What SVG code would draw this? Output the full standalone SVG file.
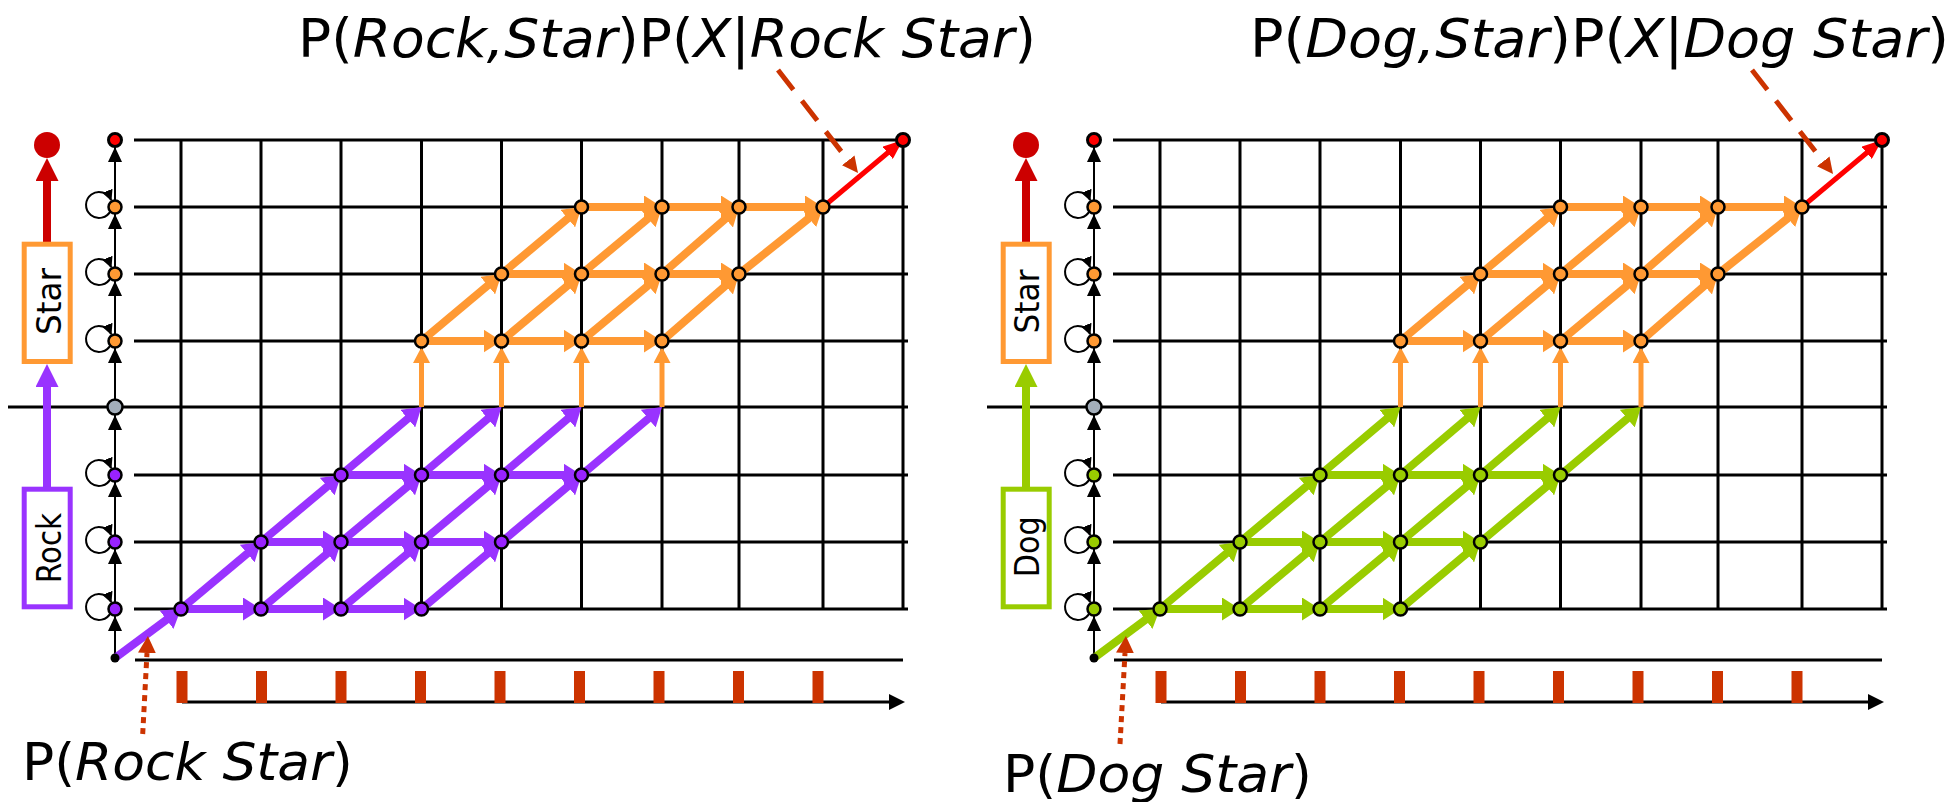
<svg xmlns="http://www.w3.org/2000/svg" xmlns:xlink="http://www.w3.org/1999/xlink" width="1954" height="802" viewBox="0 0 1954 802">
<style>
.grid{stroke:#000;stroke-width:3;fill:none}
.ax{stroke:#000;stroke-width:2;fill:none;marker-end:url(#mK)}
.loop{stroke:#000;stroke-width:2;fill:none;marker-end:url(#mL)}
.pe{stroke:#9933FF;stroke-width:8;fill:none;marker-end:url(#mP)}
.pe2{stroke:#9933FF;stroke-width:8;fill:none;marker-end:url(#mP2)}
.ge{stroke:#99CC00;stroke-width:8;fill:none;marker-end:url(#mG)}
.ge2{stroke:#99CC00;stroke-width:8;fill:none;marker-end:url(#mG2)}
.oe{stroke:#FF9933;stroke-width:8;fill:none;marker-end:url(#mO)}
.ov{stroke:#FF9933;stroke-width:5;fill:none;marker-end:url(#mOv)}
.re{stroke:#FF0000;stroke-width:5;fill:none;marker-end:url(#mR)}
.np{fill:#9922FF;stroke:#000;stroke-width:2.5}
.no{fill:#FF9933;stroke:#000;stroke-width:2.5}
.ng{fill:#99CC00;stroke:#000;stroke-width:2.5}
.nr{fill:#FF0000;stroke:#000;stroke-width:3}
.ngr{fill:#A3AEBA;stroke:#000;stroke-width:2.5}
.nk{fill:#000}
.lbl{font-family:"DejaVu Sans",Verdana,sans-serif;font-size:53px;fill:#000}
.blbl{font-family:"DejaVu Sans",Verdana,sans-serif;font-size:52px;fill:#000}
.btxt{font-family:"DejaVu Sans",Verdana,sans-serif;font-size:33px;fill:#000;text-anchor:middle}
.dash{stroke:#CC3300;stroke-width:5;fill:none;stroke-dasharray:25 14;marker-end:url(#mD)}
.dot{stroke:#CC3300;stroke-width:5;fill:none;stroke-dasharray:6 5;marker-end:url(#mDot)}
.tick{fill:#CC3300}
.tax{stroke:#000;stroke-width:3;fill:none;marker-end:url(#mAx)}
</style>
<defs>
<marker id="mP" markerUnits="userSpaceOnUse" markerWidth="18" markerHeight="23" refX="18" refY="11.5" orient="auto"><path d="M0,0L18,11.5L0,23z" fill="#9933FF"/></marker>
<marker id="mP2" markerUnits="userSpaceOnUse" markerWidth="18" markerHeight="23" refX="10" refY="11.5" orient="auto"><path d="M0,0L18,11.5L0,23z" fill="#9933FF"/></marker>
<marker id="mG" markerUnits="userSpaceOnUse" markerWidth="18" markerHeight="23" refX="18" refY="11.5" orient="auto"><path d="M0,0L18,11.5L0,23z" fill="#99CC00"/></marker>
<marker id="mG2" markerUnits="userSpaceOnUse" markerWidth="18" markerHeight="23" refX="10" refY="11.5" orient="auto"><path d="M0,0L18,11.5L0,23z" fill="#99CC00"/></marker>
<marker id="mO" markerUnits="userSpaceOnUse" markerWidth="18" markerHeight="23" refX="18" refY="11.5" orient="auto"><path d="M0,0L18,11.5L0,23z" fill="#FF9933"/></marker>
<marker id="mOv" markerUnits="userSpaceOnUse" markerWidth="16" markerHeight="17" refX="11" refY="8.5" orient="auto"><path d="M0,0L16,8.5L0,17z" fill="#FF9933"/></marker>
<marker id="mR" markerUnits="userSpaceOnUse" markerWidth="20" markerHeight="16" refX="20" refY="8" orient="auto"><path d="M0,0L20,8L0,16z" fill="#FF0000"/></marker>
<marker id="mK" markerUnits="userSpaceOnUse" markerWidth="15" markerHeight="14" refX="15" refY="7" orient="auto"><path d="M0,0L15,7L0,14z" fill="#000"/></marker>
<marker id="mL" markerUnits="userSpaceOnUse" markerWidth="11" markerHeight="11" refX="10" refY="5.5" orient="auto"><path d="M0,0L11,5.5L0,11z" fill="#000"/></marker>
<marker id="mD" markerUnits="userSpaceOnUse" markerWidth="16" markerHeight="16" refX="0" refY="8" orient="auto"><path d="M0,0L16,8L0,16z" fill="#CC3300"/></marker>
<marker id="mDot" markerUnits="userSpaceOnUse" markerWidth="17" markerHeight="18" refX="0" refY="9" orient="auto"><path d="M0,0L17,9L0,18z" fill="#CC3300"/></marker>
<marker id="mAx" markerUnits="userSpaceOnUse" markerWidth="16" markerHeight="16" refX="0" refY="8" orient="auto"><path d="M0,0L16,8L0,16z" fill="#000"/></marker>
<marker id="mBR" markerUnits="userSpaceOnUse" markerWidth="23" markerHeight="23" refX="0" refY="11.5" orient="auto"><path d="M0,0L23,11.5L0,23z" fill="#CC0000"/></marker>
<marker id="mBP" markerUnits="userSpaceOnUse" markerWidth="23" markerHeight="23" refX="0" refY="11.5" orient="auto"><path d="M0,0L23,11.5L0,23z" fill="#9933FF"/></marker>
<marker id="mBG" markerUnits="userSpaceOnUse" markerWidth="23" markerHeight="23" refX="0" refY="11.5" orient="auto"><path d="M0,0L23,11.5L0,23z" fill="#99CC00"/></marker>
<path id="loop" d="M-4.2,3.5A13,13 0 1,1 -3.9,-6.9"/>
</defs>

<!-- ============ LEFT PANEL ============ -->
<g id="L-grid">
<path class="grid" d="M134,140H903M134,207H908M134,274H908M134,341H908M8,407H908M134,475H908M134,542H908M134,609H908M181,140V609M261,140V609M341,140V609M421.5,140V609M501.5,140V609M581.5,140V609M662,140V609M739,140V609M823,140V609M903,140V609M135,660H903"/>
<path class="tax" d="M182,702H889"/>
<g class="tick">
<rect x="176.5" y="671" width="11" height="32"/><rect x="256" y="671" width="11" height="32"/><rect x="335.5" y="671" width="11" height="32"/><rect x="415" y="671" width="11" height="32"/><rect x="494.5" y="671" width="11" height="32"/><rect x="574" y="671" width="11" height="32"/><rect x="653.5" y="671" width="11" height="32"/><rect x="733" y="671" width="11" height="32"/><rect x="812.5" y="671" width="11" height="32"/>
</g>
</g>

<g id="L-connectors">
<line class="ax" x1="115" y1="658" x2="115" y2="616"/>
<line class="ax" x1="115" y1="609" x2="115" y2="549"/>
<line class="ax" x1="115" y1="542" x2="115" y2="482"/>
<line class="ax" x1="115" y1="475" x2="115" y2="415"/>
<line class="ax" x1="115" y1="407" x2="115" y2="348"/>
<line class="ax" x1="115" y1="341" x2="115" y2="281"/>
<line class="ax" x1="115" y1="274" x2="115" y2="214"/>
<line class="ax" x1="115" y1="207" x2="115" y2="147"/>
<use href="#loop" class="loop" x="115" y="609"/>
<use href="#loop" class="loop" x="115" y="542"/>
<use href="#loop" class="loop" x="115" y="475"/>
<use href="#loop" class="loop" x="115" y="341"/>
<use href="#loop" class="loop" x="115" y="274"/>
<use href="#loop" class="loop" x="115" y="207"/>
<line x1="47" y1="487" x2="47" y2="387" stroke="#9933FF" stroke-width="8" marker-end="url(#mBP)"/>
<line x1="47" y1="242" x2="47" y2="181" stroke="#CC0000" stroke-width="8" marker-end="url(#mBR)"/>
<line class="pe" x1="115" y1="658" x2="181" y2="609"/>
<line class="pe" x1="181" y1="609" x2="261" y2="542"/>
<line class="pe" x1="261" y1="609" x2="341" y2="542"/>
<line class="pe" x1="341" y1="609" x2="421.5" y2="542"/>
<line class="pe" x1="421.5" y1="609" x2="501.5" y2="542"/>
<line class="pe" x1="181" y1="609" x2="261" y2="609"/>
<line class="pe" x1="261" y1="609" x2="341" y2="609"/>
<line class="pe" x1="341" y1="609" x2="421.5" y2="609"/>
<line class="pe" x1="261" y1="542" x2="341" y2="475"/>
<line class="pe" x1="341" y1="542" x2="421.5" y2="475"/>
<line class="pe" x1="421.5" y1="542" x2="501.5" y2="475"/>
<line class="pe" x1="501.5" y1="542" x2="581.5" y2="475"/>
<line class="pe" x1="261" y1="542" x2="341" y2="542"/>
<line class="pe" x1="341" y1="542" x2="421.5" y2="542"/>
<line class="pe" x1="421.5" y1="542" x2="501.5" y2="542"/>
<line class="pe2" x1="341" y1="475" x2="415.4" y2="412.2"/>
<line class="pe2" x1="421.5" y1="475" x2="495.4" y2="412.2"/>
<line class="pe2" x1="501.5" y1="475" x2="575.4" y2="412.2"/>
<line class="pe2" x1="581.5" y1="475" x2="655.9" y2="412.2"/>
<line class="pe" x1="341" y1="475" x2="421.5" y2="475"/>
<line class="pe" x1="421.5" y1="475" x2="501.5" y2="475"/>
<line class="pe" x1="501.5" y1="475" x2="581.5" y2="475"/>
<line class="ov" x1="421.5" y1="407" x2="421.5" y2="352"/>
<line class="ov" x1="501.5" y1="407" x2="501.5" y2="352"/>
<line class="ov" x1="581.5" y1="407" x2="581.5" y2="352"/>
<line class="ov" x1="662" y1="407" x2="662" y2="352"/>
<line class="oe" x1="421.5" y1="341" x2="501.5" y2="274"/>
<line class="oe" x1="501.5" y1="341" x2="581.5" y2="274"/>
<line class="oe" x1="581.5" y1="341" x2="662" y2="274"/>
<line class="oe" x1="662" y1="341" x2="739" y2="274"/>
<line class="oe" x1="421.5" y1="341" x2="501.5" y2="341"/>
<line class="oe" x1="501.5" y1="341" x2="581.5" y2="341"/>
<line class="oe" x1="581.5" y1="341" x2="662" y2="341"/>
<line class="oe" x1="501.5" y1="274" x2="581.5" y2="207"/>
<line class="oe" x1="581.5" y1="274" x2="662" y2="207"/>
<line class="oe" x1="662" y1="274" x2="739" y2="207"/>
<line class="oe" x1="739" y1="274" x2="823" y2="207"/>
<line class="oe" x1="501.5" y1="274" x2="581.5" y2="274"/>
<line class="oe" x1="581.5" y1="274" x2="662" y2="274"/>
<line class="oe" x1="662" y1="274" x2="739" y2="274"/>
<line class="oe" x1="581.5" y1="207" x2="662" y2="207"/>
<line class="oe" x1="662" y1="207" x2="739" y2="207"/>
<line class="oe" x1="739" y1="207" x2="823" y2="207"/>
<line class="re" x1="823" y1="207" x2="903" y2="140"/>
<line class="dash" x1="778" y1="70" x2="848.2" y2="160.4"/>
<line class="dot" x1="142.7" y1="734" x2="147" y2="653"/>
</g>

<g id="L-box-star"><rect x="24.2" y="244.2" width="46" height="117.3" fill="#fff" stroke="#FF9933" stroke-width="5"/><text class="btxt" transform="translate(60.5,301.5) rotate(-90)" textLength="67" lengthAdjust="spacingAndGlyphs">Star</text></g>
<g id="L-box-rock"><rect x="24.2" y="489.2" width="46" height="117.6" fill="#fff" stroke="#9933FF" stroke-width="5"/><text class="btxt" transform="translate(60.5,548) rotate(-90)" textLength="70" lengthAdjust="spacingAndGlyphs">Rock</text></g>
<g id="L-end"><circle cx="47" cy="145" r="13" fill="#CC0000"/></g>

<g id="L-s0"><circle class="nk" cx="115" cy="658" r="4.5"/></g>
<g id="L-s1"><circle class="np" cx="115" cy="609" r="6.5"/></g>
<g id="L-s2"><circle class="np" cx="115" cy="542" r="6.5"/></g>
<g id="L-s3"><circle class="np" cx="115" cy="475" r="6.5"/></g>
<g id="L-s4"><circle class="ngr" cx="115" cy="407" r="7.5"/></g>
<g id="L-s5"><circle class="no" cx="115" cy="341" r="6.5"/></g>
<g id="L-s6"><circle class="no" cx="115" cy="274" r="6.5"/></g>
<g id="L-s7"><circle class="no" cx="115" cy="207" r="6.5"/></g>
<g id="L-s8"><circle class="nr" cx="115" cy="140" r="6.5"/></g>

<g id="L-p0a"><circle class="np" cx="181" cy="609" r="6.5"/></g>
<g id="L-p0b"><circle class="np" cx="261" cy="609" r="6.5"/></g>
<g id="L-p0c"><circle class="np" cx="341" cy="609" r="6.5"/></g>
<g id="L-p0d"><circle class="np" cx="421.5" cy="609" r="6.5"/></g>
<g id="L-p1a"><circle class="np" cx="261" cy="542" r="6.5"/></g>
<g id="L-p1b"><circle class="np" cx="341" cy="542" r="6.5"/></g>
<g id="L-p1c"><circle class="np" cx="421.5" cy="542" r="6.5"/></g>
<g id="L-p1d"><circle class="np" cx="501.5" cy="542" r="6.5"/></g>
<g id="L-p2a"><circle class="np" cx="341" cy="475" r="6.5"/></g>
<g id="L-p2b"><circle class="np" cx="421.5" cy="475" r="6.5"/></g>
<g id="L-p2c"><circle class="np" cx="501.5" cy="475" r="6.5"/></g>
<g id="L-p2d"><circle class="np" cx="581.5" cy="475" r="6.5"/></g>
<g id="L-o0a"><circle class="no" cx="421.5" cy="341" r="6.5"/></g>
<g id="L-o0b"><circle class="no" cx="501.5" cy="341" r="6.5"/></g>
<g id="L-o0c"><circle class="no" cx="581.5" cy="341" r="6.5"/></g>
<g id="L-o0d"><circle class="no" cx="662" cy="341" r="6.5"/></g>
<g id="L-o1a"><circle class="no" cx="501.5" cy="274" r="6.5"/></g>
<g id="L-o1b"><circle class="no" cx="581.5" cy="274" r="6.5"/></g>
<g id="L-o1c"><circle class="no" cx="662" cy="274" r="6.5"/></g>
<g id="L-o1d"><circle class="no" cx="739" cy="274" r="6.5"/></g>
<g id="L-o2a"><circle class="no" cx="581.5" cy="207" r="6.5"/></g>
<g id="L-o2b"><circle class="no" cx="662" cy="207" r="6.5"/></g>
<g id="L-o2c"><circle class="no" cx="739" cy="207" r="6.5"/></g>
<g id="L-o2d"><circle class="no" cx="823" cy="207" r="6.5"/></g>
<g id="L-final"><circle class="nr" cx="903" cy="140" r="6.5"/></g>

<g id="L-label-top"><text class="lbl" x="298" y="57" textLength="738" lengthAdjust="spacingAndGlyphs">P(<tspan font-style="italic">Rock,Star</tspan>)P(<tspan font-style="italic">X</tspan>|<tspan font-style="italic">Rock Star</tspan>)</text></g>
<g id="L-label-bottom"><text class="blbl" x="22" y="780" textLength="331" lengthAdjust="spacingAndGlyphs">P(<tspan font-style="italic">Rock Star</tspan>)</text></g>

<!-- ============ RIGHT PANEL ============ -->
<g transform="translate(979,0)">
<g id="R-grid">
<path class="grid" d="M134,140H903M134,207H908M134,274H908M134,341H908M8,407H908M134,475H908M134,542H908M134,609H908M181,140V609M261,140V609M341,140V609M421.5,140V609M501.5,140V609M581.5,140V609M662,140V609M739,140V609M823,140V609M903,140V609M135,660H903"/>
<path class="tax" d="M182,702H889"/>
<g class="tick">
<rect x="176.5" y="671" width="11" height="32"/><rect x="256" y="671" width="11" height="32"/><rect x="335.5" y="671" width="11" height="32"/><rect x="415" y="671" width="11" height="32"/><rect x="494.5" y="671" width="11" height="32"/><rect x="574" y="671" width="11" height="32"/><rect x="653.5" y="671" width="11" height="32"/><rect x="733" y="671" width="11" height="32"/><rect x="812.5" y="671" width="11" height="32"/>
</g>
</g>

<g id="R-connectors">
<line class="ax" x1="115" y1="658" x2="115" y2="616"/>
<line class="ax" x1="115" y1="609" x2="115" y2="549"/>
<line class="ax" x1="115" y1="542" x2="115" y2="482"/>
<line class="ax" x1="115" y1="475" x2="115" y2="415"/>
<line class="ax" x1="115" y1="407" x2="115" y2="348"/>
<line class="ax" x1="115" y1="341" x2="115" y2="281"/>
<line class="ax" x1="115" y1="274" x2="115" y2="214"/>
<line class="ax" x1="115" y1="207" x2="115" y2="147"/>
<use href="#loop" class="loop" x="115" y="609"/>
<use href="#loop" class="loop" x="115" y="542"/>
<use href="#loop" class="loop" x="115" y="475"/>
<use href="#loop" class="loop" x="115" y="341"/>
<use href="#loop" class="loop" x="115" y="274"/>
<use href="#loop" class="loop" x="115" y="207"/>
<line x1="47" y1="487" x2="47" y2="387" stroke="#99CC00" stroke-width="8" marker-end="url(#mBG)"/>
<line x1="47" y1="242" x2="47" y2="181" stroke="#CC0000" stroke-width="8" marker-end="url(#mBR)"/>
<line class="ge" x1="115" y1="658" x2="181" y2="609"/>
<line class="ge" x1="181" y1="609" x2="261" y2="542"/>
<line class="ge" x1="261" y1="609" x2="341" y2="542"/>
<line class="ge" x1="341" y1="609" x2="421.5" y2="542"/>
<line class="ge" x1="421.5" y1="609" x2="501.5" y2="542"/>
<line class="ge" x1="181" y1="609" x2="261" y2="609"/>
<line class="ge" x1="261" y1="609" x2="341" y2="609"/>
<line class="ge" x1="341" y1="609" x2="421.5" y2="609"/>
<line class="ge" x1="261" y1="542" x2="341" y2="475"/>
<line class="ge" x1="341" y1="542" x2="421.5" y2="475"/>
<line class="ge" x1="421.5" y1="542" x2="501.5" y2="475"/>
<line class="ge" x1="501.5" y1="542" x2="581.5" y2="475"/>
<line class="ge" x1="261" y1="542" x2="341" y2="542"/>
<line class="ge" x1="341" y1="542" x2="421.5" y2="542"/>
<line class="ge" x1="421.5" y1="542" x2="501.5" y2="542"/>
<line class="ge2" x1="341" y1="475" x2="415.4" y2="412.2"/>
<line class="ge2" x1="421.5" y1="475" x2="495.4" y2="412.2"/>
<line class="ge2" x1="501.5" y1="475" x2="575.4" y2="412.2"/>
<line class="ge2" x1="581.5" y1="475" x2="655.9" y2="412.2"/>
<line class="ge" x1="341" y1="475" x2="421.5" y2="475"/>
<line class="ge" x1="421.5" y1="475" x2="501.5" y2="475"/>
<line class="ge" x1="501.5" y1="475" x2="581.5" y2="475"/>
<line class="ov" x1="421.5" y1="407" x2="421.5" y2="352"/>
<line class="ov" x1="501.5" y1="407" x2="501.5" y2="352"/>
<line class="ov" x1="581.5" y1="407" x2="581.5" y2="352"/>
<line class="ov" x1="662" y1="407" x2="662" y2="352"/>
<line class="oe" x1="421.5" y1="341" x2="501.5" y2="274"/>
<line class="oe" x1="501.5" y1="341" x2="581.5" y2="274"/>
<line class="oe" x1="581.5" y1="341" x2="662" y2="274"/>
<line class="oe" x1="662" y1="341" x2="739" y2="274"/>
<line class="oe" x1="421.5" y1="341" x2="501.5" y2="341"/>
<line class="oe" x1="501.5" y1="341" x2="581.5" y2="341"/>
<line class="oe" x1="581.5" y1="341" x2="662" y2="341"/>
<line class="oe" x1="501.5" y1="274" x2="581.5" y2="207"/>
<line class="oe" x1="581.5" y1="274" x2="662" y2="207"/>
<line class="oe" x1="662" y1="274" x2="739" y2="207"/>
<line class="oe" x1="739" y1="274" x2="823" y2="207"/>
<line class="oe" x1="501.5" y1="274" x2="581.5" y2="274"/>
<line class="oe" x1="581.5" y1="274" x2="662" y2="274"/>
<line class="oe" x1="662" y1="274" x2="739" y2="274"/>
<line class="oe" x1="581.5" y1="207" x2="662" y2="207"/>
<line class="oe" x1="662" y1="207" x2="739" y2="207"/>
<line class="oe" x1="739" y1="207" x2="823" y2="207"/>
<line class="re" x1="823" y1="207" x2="903" y2="140"/>
<line class="dash" x1="773" y1="70" x2="844.2" y2="161.4"/>
<line class="dot" x1="141" y1="744" x2="146" y2="653"/>
</g>

<g id="R-box-star"><rect x="24.2" y="244.2" width="46" height="117.3" fill="#fff" stroke="#FF9933" stroke-width="5"/><text class="btxt" transform="translate(59.5,301.5) rotate(-90)" textLength="64" lengthAdjust="spacingAndGlyphs">Star</text></g>
<g id="R-box-dog"><rect x="24.2" y="489.2" width="46" height="117.6" fill="#fff" stroke="#99CC00" stroke-width="5"/><text class="btxt" transform="translate(59.5,546.7) rotate(-90)" textLength="61" lengthAdjust="spacingAndGlyphs">Dog</text></g>
<g id="R-end"><circle cx="47" cy="145" r="13" fill="#CC0000"/></g>

<g id="R-s0"><circle class="nk" cx="115" cy="658" r="4.5"/></g>
<g id="R-s1"><circle class="ng" cx="115" cy="609" r="6.5"/></g>
<g id="R-s2"><circle class="ng" cx="115" cy="542" r="6.5"/></g>
<g id="R-s3"><circle class="ng" cx="115" cy="475" r="6.5"/></g>
<g id="R-s4"><circle class="ngr" cx="115" cy="407" r="7.5"/></g>
<g id="R-s5"><circle class="no" cx="115" cy="341" r="6.5"/></g>
<g id="R-s6"><circle class="no" cx="115" cy="274" r="6.5"/></g>
<g id="R-s7"><circle class="no" cx="115" cy="207" r="6.5"/></g>
<g id="R-s8"><circle class="nr" cx="115" cy="140" r="6.5"/></g>

<g id="R-g0a"><circle class="ng" cx="181" cy="609" r="6.5"/></g>
<g id="R-g0b"><circle class="ng" cx="261" cy="609" r="6.5"/></g>
<g id="R-g0c"><circle class="ng" cx="341" cy="609" r="6.5"/></g>
<g id="R-g0d"><circle class="ng" cx="421.5" cy="609" r="6.5"/></g>
<g id="R-g1a"><circle class="ng" cx="261" cy="542" r="6.5"/></g>
<g id="R-g1b"><circle class="ng" cx="341" cy="542" r="6.5"/></g>
<g id="R-g1c"><circle class="ng" cx="421.5" cy="542" r="6.5"/></g>
<g id="R-g1d"><circle class="ng" cx="501.5" cy="542" r="6.5"/></g>
<g id="R-g2a"><circle class="ng" cx="341" cy="475" r="6.5"/></g>
<g id="R-g2b"><circle class="ng" cx="421.5" cy="475" r="6.5"/></g>
<g id="R-g2c"><circle class="ng" cx="501.5" cy="475" r="6.5"/></g>
<g id="R-g2d"><circle class="ng" cx="581.5" cy="475" r="6.5"/></g>
<g id="R-o0a"><circle class="no" cx="421.5" cy="341" r="6.5"/></g>
<g id="R-o0b"><circle class="no" cx="501.5" cy="341" r="6.5"/></g>
<g id="R-o0c"><circle class="no" cx="581.5" cy="341" r="6.5"/></g>
<g id="R-o0d"><circle class="no" cx="662" cy="341" r="6.5"/></g>
<g id="R-o1a"><circle class="no" cx="501.5" cy="274" r="6.5"/></g>
<g id="R-o1b"><circle class="no" cx="581.5" cy="274" r="6.5"/></g>
<g id="R-o1c"><circle class="no" cx="662" cy="274" r="6.5"/></g>
<g id="R-o1d"><circle class="no" cx="739" cy="274" r="6.5"/></g>
<g id="R-o2a"><circle class="no" cx="581.5" cy="207" r="6.5"/></g>
<g id="R-o2b"><circle class="no" cx="662" cy="207" r="6.5"/></g>
<g id="R-o2c"><circle class="no" cx="739" cy="207" r="6.5"/></g>
<g id="R-o2d"><circle class="no" cx="823" cy="207" r="6.5"/></g>
<g id="R-final"><circle class="nr" cx="903" cy="140" r="6.5"/></g>
</g>

<g id="R-label-top"><text class="lbl" x="1250" y="57" textLength="699" lengthAdjust="spacingAndGlyphs">P(<tspan font-style="italic">Dog,Star</tspan>)P(<tspan font-style="italic">X</tspan>|<tspan font-style="italic">Dog Star</tspan>)</text></g>
<g id="R-label-bottom"><text class="blbl" x="1003" y="792" textLength="309" lengthAdjust="spacingAndGlyphs">P(<tspan font-style="italic">Dog Star</tspan>)</text></g>
</svg>
